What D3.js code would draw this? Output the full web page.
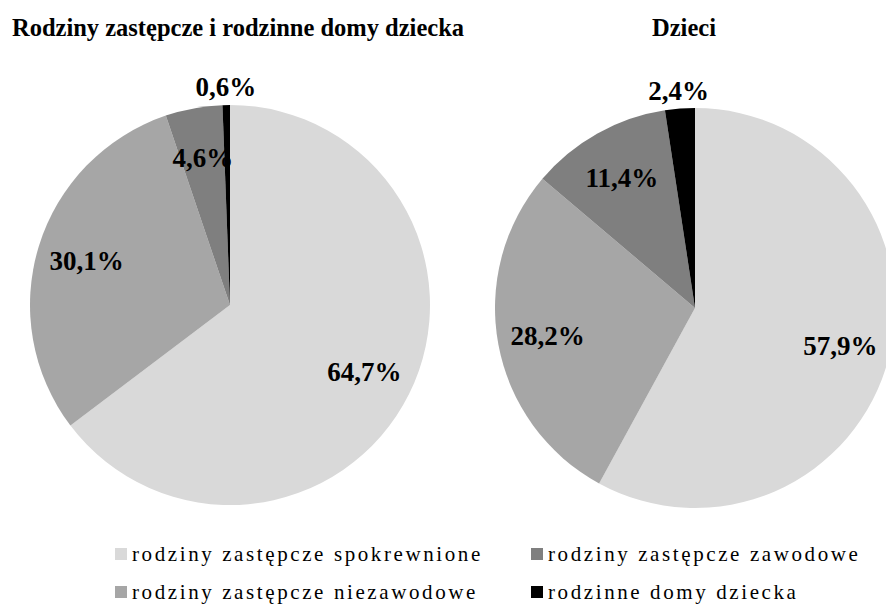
<!DOCTYPE html>
<html>
<head>
<meta charset="utf-8">
<script src="https://cdn.jsdelivr.net/npm/d3@7"></script>
<style>
  body { margin: 0; background: #fff; }
  svg { display: block; }
  text { font-family: "Liberation Serif", "Times New Roman", "DejaVu Serif", serif; fill: #000; }
</style>
</head>
<body>
<svg id="chart" width="886" height="610"></svg>
<script>
// categories and values
var categories = ["rodziny zastępcze spokrewnione", "rodziny zastępcze niezawodowe",
                  "rodziny zastępcze zawodowe", "rodzinne domy dziecka"];
var titles = ["Rodziny zastępcze i rodzinne domy dziecka", "Dzieci"];
var familiesValues = [64.7, 30.1, 4.6, 0.6];
var childrenValues = [57.9, 28.2, 11.4, 2.4];
var colors = ["#d9d9d9", "#a6a6a6", "#7f7f7f", "#000000"];

var svg = d3.select("svg#chart"),
	width = +svg.attr("width"),
	height = +svg.attr("height");

var color = d3.scaleOrdinal().domain(categories).range(colors);
var pl = d3.formatLocale({decimal: ",", thousands: " ", grouping: [3], currency: ["", " zł"]});
var fmt = pl.format(".1f");

var radius = 200;
var pie = d3.pie().sort(null).value(function(d) { return d.value; });
var arc = d3.arc().innerRadius(0).outerRadius(radius);
var labelArc = d3.arc().innerRadius(radius * 0.75).outerRadius(radius * 0.75);
var outArc = d3.arc().innerRadius(radius * 1.09).outerRadius(radius * 1.09);

var charts = [
	{title: titles[0], values: familiesValues, cx: 230, cy: 305, tx: 238},
	{title: titles[1], values: childrenValues, cx: 695, cy: 308, tx: 684}
];

charts.forEach(function(c) {
	var data = c.values.map(function(v, i) { return {name: categories[i], value: v}; });

	svg.append("text")
		.attr("x", c.tx)
		.attr("y", 36)
		.attr("text-anchor", "middle")
		.style("font-size", "24.5px")
		.style("font-weight", "bold")
		.text(c.title);

	var g = svg.append("g")
		.attr("transform", "translate(" + c.cx + "," + c.cy + ")");

	g.selectAll("path.slice")
		.data(pie(data))
	  .enter().append("path")
		.attr("class", "slice")
		.attr("d", arc)
		.attr("fill", function(d) { return color(d.data.name); });

	// small slices get their label outside the pie
	g.selectAll("text.pct")
		.data(pie(data))
	  .enter().append("text")
		.attr("class", "pct")
		.attr("transform", function(d) {
			var p = d.data.value < 3 ? outArc.centroid(d) : labelArc.centroid(d);
			return "translate(" + p + ")";
		})
		.attr("text-anchor", "middle")
		.attr("dy", "0.35em")
		.style("font-size", "27px")
		.style("font-weight", "bold")
		.text(function(d) { return fmt(d.data.value) + "%"; });
});

// legend, filled column by column
var legend = svg.append("g").attr("class", "legend");
var item = legend.selectAll("g.item")
	.data(categories)
  .enter().append("g")
	.attr("class", "item")
	.attr("transform", function(d, i) {
		return "translate(" + (115 + Math.floor(i / 2) * 416) + "," + (554 + (i % 2) * 38) + ")";
	});

item.append("rect")
	.attr("x", 0)
	.attr("y", -6)
	.attr("width", 12)
	.attr("height", 12)
	.attr("fill", function(d) { return color(d); });

item.append("text")
	.attr("x", 17)
	.attr("dy", "0.32em")
	.style("font-size", "21px")
	.style("letter-spacing", "2.6px")
	.text(function(d) { return d; });
</script>
</body>
</html>
